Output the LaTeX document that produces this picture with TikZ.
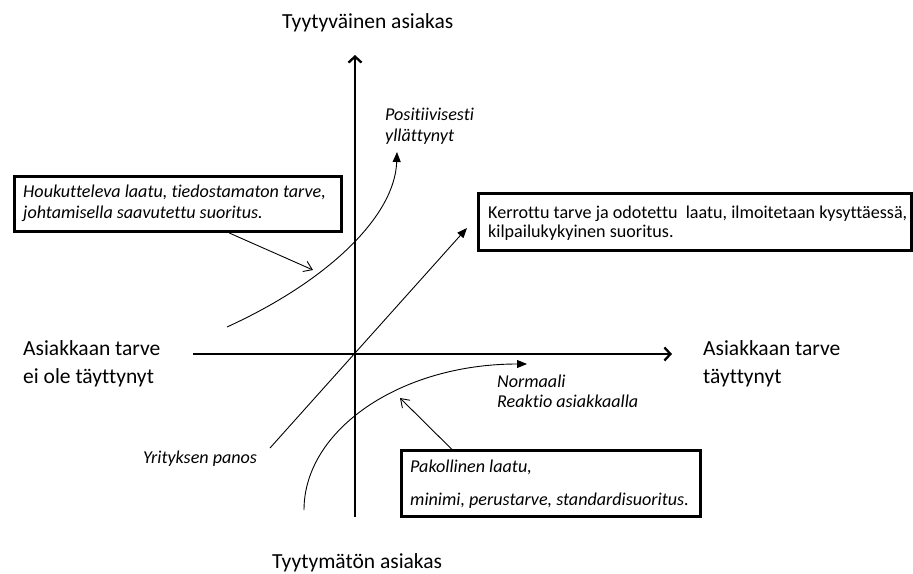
\documentclass[tikz,border=0pt]{standalone}
\usepackage{fontspec}
\setmainfont{Carlito}[Ligatures={NoCommon}]
\usetikzlibrary{arrows.meta}
\begin{document}
\begin{tikzpicture}[x=1pt,y=-1pt,
  axis/.style={line width=2.3pt, -{Straight Barb[length=6pt,width=13pt]}},
  flow/.style={line width=0.9pt, -{Triangle[length=10pt,width=8pt]}},
  pointer/.style={line width=0.9pt, -{Straight Barb[length=8pt,width=11pt]}},
  notebox/.style={draw, line width=3pt, rectangle, inner sep=0pt, anchor=north west},
  biglabel/.style={anchor=base west, inner sep=0pt, font=\fontsize{21.5}{25}\selectfont},
  note/.style={anchor=base west, inner sep=0pt, font=\fontsize{18.1}{21}\selectfont},
  inote/.style={note, font=\fontsize{18.1}{21}\selectfont\itshape}]

\useasboundingbox (0,0) rectangle (913,573);

% axes
\coordinate (O) at (355,354);
\coordinate (ybot) at (355,517);
\coordinate (ytop) at (355,55);
\coordinate (xleft) at (193,354);
\coordinate (xright) at (672,354);
\draw[axis] (ybot) -- (ytop);
\draw[axis] (xleft) -- (xright);

% axis labels
\node[biglabel] (top) at (282,28) {Tyytyväinen asiakas};
\node[biglabel] (bottom) at (272,568) {Tyytymätön asiakas};
\node[biglabel] (left1) at (23,355) {Asiakkaan tarve};
\node[biglabel] (left2) at (23,383) {ei ole täyttynyt};
\node[biglabel] (right1) at (703,355) {Asiakkaan tarve};
\node[biglabel] (right2) at (703,383) {täyttynyt};

% reaction curves
\coordinate (u0) at (227,327);
\coordinate (u1) at (397,152);
\draw[flow] (u0) .. controls (330,280) and (395,215) .. (u1);
\coordinate (d0) at (270,448);
\coordinate (d1) at (467,228);
\draw[flow] (d0) -- (d1);
\coordinate (l0) at (304,510);
\coordinate (l1) at (527,364);
\draw[flow] (l0) .. controls (304,430) and (400,364) .. (l1);

% curve labels
\node[inote] (pos1) at (385,120) {Positiivisesti};
\node[inote] (pos2) at (385,141) {yllättynyt};
\node[inote] (norm1) at (497,387) {Normaali};
\node[inote] (norm2) at (497,407) {Reaktio asiakkaalla};
\node[inote] (panos) at (143,463) {Yrityksen panos};

% note boxes
\node[notebox, minimum width=327pt, minimum height=55pt] (hbox) at (13.3,175) {};
\node[inote] (h1) at (23,197) {Houkutteleva laatu, tiedostamaton tarve,};
\node[inote] (h2) at (23,218) {johtamisella saavutettu suoritus.};

\node[notebox, minimum width=433.5pt, minimum height=56.5pt] (kbox) at (476.5,192) {};
\node[note] (k1) at (488,218) {Kerrottu tarve ja odotettu\ \ laatu, ilmoitetaan kysyttäessä,};
\node[note] (k2) at (488,237) {kilpailukykyinen suoritus.};

\node[notebox, minimum width=298.5pt, minimum height=65.5pt] (pbox) at (400,449) {};
\node[inote] (p1) at (410,472) {Pakollinen laatu,};
\node[inote] (p2) at (410,505) {minimi, perustarve, standardisuoritus.};

% pointers from the boxes to the curves
\coordinate (hp) at (313,270);
\draw[pointer] ([xshift=216pt]hbox.south west) -- (hp);
\coordinate (pp) at (400,398);
\draw[pointer] ([xshift=51.5pt]pbox.north west) -- (pp);
\end{tikzpicture}
\end{document}
